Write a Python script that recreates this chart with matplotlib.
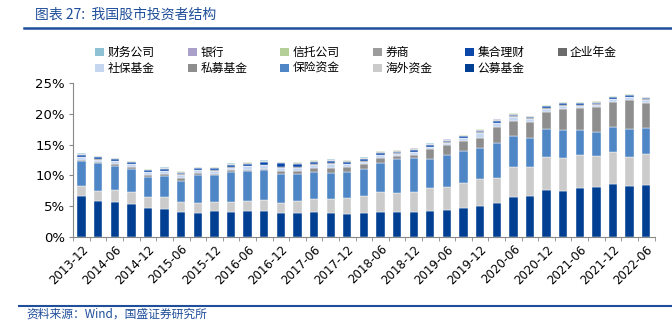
import matplotlib
matplotlib.use("Agg")
import matplotlib.pyplot as plt
from matplotlib.lines import Line2D
from matplotlib.patches import Patch
import numpy as np

plt.rcParams['font.family'] = ['Noto Sans CJK SC', 'DejaVu Sans']

# quarters 2013-12 .. 2022-06
dates = []
for y in range(2013, 2023):
    for m in ("03", "06", "09", "12"):
        d = "%d-%s" % (y, m)
        if "2013-12" <= d <= "2022-06":
            dates.append(d)

# share of A-share market value, % (bottom to top of the stack)
gongmu = [6.63, 5.87, 5.76, 5.44, 4.79, 4.63, 4.14, 3.97, 4.30, 4.14, 4.24, 4.20, 3.94, 3.97, 4.04, 3.94, 3.80, 3.97,
          4.14, 4.04, 4.14, 4.24, 4.46, 4.79, 5.05, 5.54, 6.52, 6.68, 7.60, 7.55, 7.98, 8.14, 8.58, 8.25, 8.42]
haiwai = [1.68, 1.62, 1.84, 1.84, 1.73, 1.89, 1.63, 1.57, 1.47, 1.63, 1.63, 1.78, 1.60, 1.90, 2.10, 2.31, 2.62, 2.66,
          3.14, 3.13, 3.25, 3.69, 3.68, 3.91, 4.35, 4.13, 4.78, 4.72, 5.33, 5.27, 5.38, 5.06, 5.26, 4.78, 5.04]
baoxian = [4.07, 4.46, 4.00, 3.79, 3.25, 3.36, 3.35, 4.46, 4.23, 4.77, 4.78, 4.88, 4.78, 4.34, 4.40, 4.18, 4.12, 4.35,
           4.67, 5.43, 5.43, 4.77, 5.12, 5.20, 5.05, 5.53, 5.15, 4.67, 4.66, 4.56, 4.02, 3.90, 3.98, 4.46, 4.24]
simu = [0.20, 0.22, 0.25, 0.28, 0.30, 0.32, 0.43, 0.43, 0.25, 0.27, 0.22, 0.18, 0.38, 0.54, 0.70, 0.80, 0.86, 0.86,
        0.87, 0.54, 0.54, 1.53, 1.72, 1.69, 1.67, 2.62, 2.39, 2.56, 2.71, 3.47, 3.53, 3.98, 4.08, 4.77, 4.12]
shebao = [0.34, 0.40, 0.45, 0.43, 0.43, 0.50, 0.58, 0.40, 0.53, 0.46, 0.62, 0.62, 0.50, 0.53, 0.47, 0.62, 0.41, 0.41,
          0.44, 0.33, 0.39, 0.32, 0.28, 0.41, 0.73, 0.63, 0.61, 0.50, 0.55, 0.48, 0.42, 0.40, 0.45, 0.39, 0.41]
qiye = [0.10, 0.10, 0.10, 0.10, 0.10, 0.10, 0.10, 0.10, 0.10, 0.10, 0.10, 0.10, 0.10, 0.10, 0.10, 0.10, 0.10, 0.10,
        0.10, 0.10, 0.10, 0.10, 0.10, 0.10, 0.12, 0.12, 0.12, 0.12, 0.12, 0.12, 0.12, 0.12, 0.12, 0.12, 0.12]
jihe = [0.30, 0.28, 0.25, 0.25, 0.22, 0.25, 0.22, 0.22, 0.27, 0.33, 0.33, 0.43, 0.70, 0.54, 0.43, 0.40, 0.33, 0.33,
        0.35, 0.30, 0.30, 0.30, 0.25, 0.25, 0.30, 0.30, 0.30, 0.22, 0.25, 0.22, 0.22, 0.22, 0.20, 0.20, 0.22]
quanshang = [0.13, 0.13, 0.13, 0.13, 0.13, 0.13, 0.13, 0.13, 0.13, 0.13, 0.13, 0.13, 0.13, 0.13, 0.13, 0.13, 0.13, 0.13,
             0.13, 0.13, 0.13, 0.13, 0.13, 0.13, 0.11, 0.11, 0.11, 0.11, 0.11, 0.11, 0.11, 0.11, 0.11, 0.11, 0.11]
xintuo = [0.08, 0.08, 0.08, 0.08, 0.08, 0.08, 0.08, 0.08, 0.08, 0.08, 0.08, 0.08, 0.08, 0.08, 0.08, 0.08, 0.08, 0.08,
          0.08, 0.08, 0.08, 0.08, 0.08, 0.08, 0.08, 0.08, 0.08, 0.08, 0.08, 0.08, 0.08, 0.08, 0.08, 0.08, 0.08]
yinhang = [0.02] * 35
caiwu = [0.02] * 35

series = [
    ("公募基金", gongmu, "#003F91"),
    ("海外资金", haiwai, "#CBCBCB"),
    ("保险资金", baoxian, "#4F86C6"),
    ("私募基金", simu, "#8E8E8E"),
    ("社保基金", shebao, "#C5D6F0"),
    ("企业年金", qiye, "#6B6B6B"),
    ("集合理财", jihe, "#0B47A8"),
    ("券商", quanshang, "#9C9C9C"),
    ("信托公司", xintuo, "#B5CF98"),
    ("银行", yinhang, "#A9A1C9"),
    ("财务公司", caiwu, "#8FC1D4"),
]

blue = "#1F4E9A"

fig = plt.figure(figsize=(6.72, 3.24), dpi=100)
ax = fig.add_axes([0.109, 0.268, 0.865, 0.476])

x = np.arange(len(dates))
bottom = np.zeros(len(dates))
handles = {}
for name, vals, col in series:
    v = np.array(vals)
    ax.bar(x, v, 0.5, bottom=bottom, color=col, edgecolor="white", linewidth=0.3)
    bottom += v
    handles[name] = Patch(facecolor=col, edgecolor="none")

ax.set_xlim(-0.5, len(dates) - 0.5)
ax.set_ylim(0, 25)
ax.set_yticks(range(0, 26, 5))
ax.set_yticklabels(["%d%%" % t for t in range(0, 26, 5)], fontsize=9.5, family="DejaVu Sans")
ax.set_xticks(x[::2])
ax.set_xticklabels(dates[::2], rotation=45, ha="right", rotation_mode="anchor", fontsize=8.5, family="DejaVu Sans")
ax.tick_params(axis="x", length=0, pad=4)
ax.set_xticks(np.arange(-0.5, len(dates), 1), minor=True)
ax.tick_params(axis="x", which="minor", length=3, color="#888888", direction="out")
ax.tick_params(axis="y", length=3, color="#888888", direction="out", pad=3)
for s in ("top", "right"):
    ax.spines[s].set_visible(False)
for s in ("left", "bottom"):
    ax.spines[s].set_color("#888888")
    ax.spines[s].set_linewidth(0.8)

row1 = ["财务公司", "银行", "信托公司", "券商", "集合理财", "企业年金"]
row2 = ["社保基金", "私募基金", "保险资金", "海外资金", "公募基金"]
order = []
for i in range(6):
    order.append(row1[i])
    if i < 5:
        order.append(row2[i])
fig.legend([handles[n] for n in order], order, ncol=6, loc="upper left",
           bbox_to_anchor=(0.142, 0.858), frameon=False, fontsize=8.5,
           handlelength=0.75, handleheight=0.75, handletextpad=0.3,
           columnspacing=2.8, labelspacing=0.25, borderaxespad=0, borderpad=0)

fig.text(0.052, 0.955, "图表 27:  我国股市投资者结构", fontsize=10, color=blue, style="italic", va="center")
fig.add_artist(Line2D([0.036, 1.0], [0.913, 0.913], color=blue, linewidth=1.8))
fig.add_artist(Line2D([0.028, 1.0], [0.056, 0.056], color=blue, linewidth=1.5))
fig.text(0.040, 0.030, "资料来源：Wind，国盛证券研究所", fontsize=8.5, color=blue, style="italic", va="center")

fig.savefig("out.png", dpi=100)
